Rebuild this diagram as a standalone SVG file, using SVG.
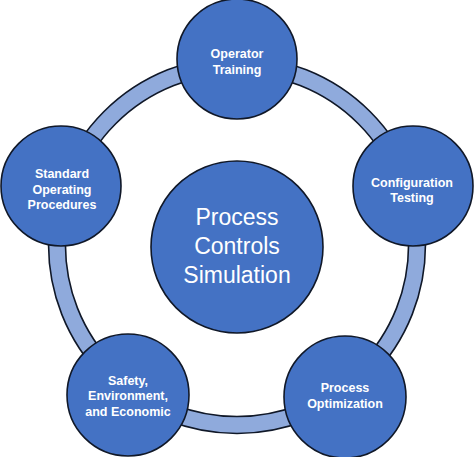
<svg xmlns="http://www.w3.org/2000/svg" width="474" height="457" viewBox="0 0 474 457">
<style>
.node{fill:#4472C4;stroke:#101828;stroke-width:1.6}
.lbl{font-family:"Liberation Sans",Arial,sans-serif;font-weight:bold;font-size:12.5px;fill:#ffffff;text-anchor:middle}
.big{font-family:"Liberation Sans",Arial,sans-serif;font-size:23px;fill:#ffffff;text-anchor:middle}
</style>
<rect width="474" height="457" fill="#ffffff"/>
<g id="connectors" fill="none">
<circle cx="237" cy="245" r="180" stroke="#101828" stroke-width="18.5"/>
<circle cx="237" cy="245" r="180" stroke="#8FAADC" stroke-width="15.3"/>
</g>
<g id="center">
<circle class="node" cx="237" cy="247" r="86"/>
<text class="big" x="237" y="225">Process</text>
<text class="big" x="237" y="254">Controls</text>
<text class="big" x="237" y="283">Simulation</text>
</g>
<g id="operator-training">
<circle class="node" cx="237" cy="59" r="60"/>
<text class="lbl" x="237" y="58">Operator</text>
<text class="lbl" x="237" y="74">Training</text>
</g>
<g id="configuration-testing">
<circle class="node" cx="413" cy="186" r="60"/>
<text class="lbl" x="412" y="186.5">Configuration</text>
<text class="lbl" x="412" y="202">Testing</text>
</g>
<g id="process-optimization">
<circle class="node" cx="345" cy="397" r="61"/>
<text class="lbl" x="345" y="391.5">Process</text>
<text class="lbl" x="345" y="407.5">Optimization</text>
</g>
<g id="safety-environment-economic">
<circle class="node" cx="128" cy="395" r="61"/>
<text class="lbl" x="128" y="384.5">Safety,</text>
<text class="lbl" x="128" y="400">Environment,</text>
<text class="lbl" x="128" y="415.5">and Economic</text>
</g>
<g id="standard-operating-procedures">
<circle class="node" cx="61" cy="186" r="60"/>
<text class="lbl" x="62" y="177.5">Standard</text>
<text class="lbl" x="62" y="193.5">Operating</text>
<text class="lbl" x="62" y="209">Procedures</text>
</g>
</svg>
